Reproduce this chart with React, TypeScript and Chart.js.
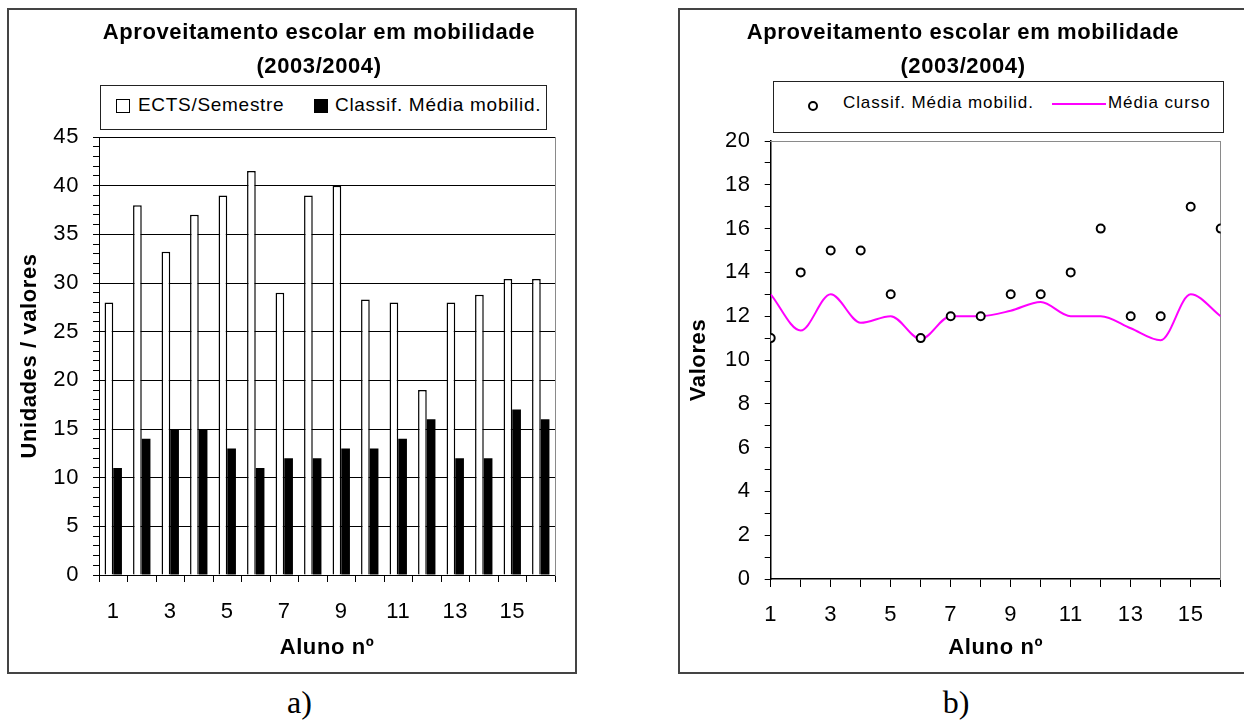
import { useEffect, useRef } from 'react';
import { Chart, registerables } from 'chart.js';

Chart.register(...registerables);

const SANS = '"Liberation Sans", Arial, Helvetica, sans-serif';
const SERIF = '"Liberation Serif", "Times New Roman", serif';

Chart.defaults.font.family = SANS;
Chart.defaults.color = '#000';

// ---- data -------------------------------------------------------------
const TITLE_LINES = ['Aproveitamento escolar em mobilidade', '(2003/2004)'];
const STUDENTS = [1, 2, 3, 4, 5, 6, 7, 8, 9, 10, 11, 12, 13, 14, 15, 16];
const ECTS_SEMESTRE = [28, 38, 33.2, 37, 39, 41.5, 29, 39, 40, 28.3, 28, 19, 28, 28.8, 30.4, 30.4];
const CLASSIF_MEDIA = [11, 14, 15, 15, 13, 11, 12, 12, 13, 13, 14, 16, 12, 12, 17, 16];
const MEDIA_CURSO = [13, 11.35, 13, 11.7, 12, 10.95, 12, 12, 12.25, 12.65, 12, 12, 11.45, 10.9, 13, 12];

const LABEL_ECTS = 'ECTS/Semestre';
const LABEL_CLASSIF = 'Classif. Média mobilid.';
const LABEL_CURSO = 'Média curso';
const X_TITLE = 'Aluno nº';
const Y_TITLE_A = 'Unidades / valores';
const Y_TITLE_B = 'Valores';
const CAPTION_A = 'a)';
const CAPTION_B = 'b)';

const COLOR_ECTS = '#ffffff';
const COLOR_CLASSIF = '#000000';
const COLOR_CURSO = '#ff00ff';
const EDGE_GRAY = '#8a8a8a';

// slightly wider glyph spacing for all canvas text
const textSpacing = {
  id: 'textSpacing',
  beforeDraw(chart: any) {
    chart.ctx.letterSpacing = '0.6px';
  },
};

const TICK_FONT = { size: 22 };
const AXIS_TITLE_FONT = { size: 22, weight: 'bold' as const };

const titleOpts = (top: number, bottom: number) => ({
  display: true,
  text: TITLE_LINES,
  color: '#000',
  font: { size: 22, weight: 'bold' as const, lineHeight: 1.532 },
  padding: { top, bottom },
});

function BarPanel() {
  const ref = useRef<HTMLCanvasElement | null>(null);
  useEffect(() => {
    const canvas = ref.current;
    if (!canvas) return;
    const chart = new Chart(canvas, {
      type: 'bar',
      data: {
        labels: STUDENTS.map(String),
        datasets: [
          {
            label: LABEL_ECTS,
            data: ECTS_SEMESTRE,
            backgroundColor: COLOR_ECTS,
            borderColor: '#000',
            borderWidth: 1.5,
            categoryPercentage: 0.61,
            barPercentage: 1,
          },
          {
            label: LABEL_CLASSIF,
            data: CLASSIF_MEDIA,
            backgroundColor: COLOR_CLASSIF,
            borderColor: COLOR_CLASSIF,
            borderWidth: 0,
            categoryPercentage: 0.61,
            barPercentage: 1,
          },
        ],
      },
      options: {
        responsive: false,
        animation: false,
        layout: { padding: { left: 8, right: 0, top: 0, bottom: 0 } },
        plugins: {
          legend: { display: false },
          tooltip: { enabled: false },
          title: titleOpts(6.15, 53.45),
        },
        scales: {
          x: {
            type: 'category',
            offset: true,
            grid: { offset: true, drawOnChartArea: false, tickLength: 7, tickColor: '#000', tickWidth: 1 },
            border: { color: '#000', width: 1 },
            ticks: {
              autoSkip: false,
              maxRotation: 0,
              color: '#000',
              font: TICK_FONT,
              padding: 16.5,
              callback: (_v: any, i: number) => (i % 2 === 0 ? String(STUDENTS[i]) : ''),
            },
            title: {
              display: true,
              text: X_TITLE,
              color: '#000',
              font: AXIS_TITLE_FONT,
              padding: { top: 0, bottom: 10.5 },
            },
            afterFit: (s: any) => {
              s.height = 97;
            },
          },
          y: {
            type: 'linear',
            min: 0,
            max: 45,
            grid: {
              color: (c: any) => (c.tick && c.tick.value % 5 === 0 ? '#000' : 'rgba(0,0,0,0)'),
              tickColor: '#000',
              tickLength: 6,
              lineWidth: 1,
            },
            border: { color: '#000', width: 1 },
            ticks: {
              stepSize: 1,
              autoSkip: false,
              color: '#000',
              font: TICK_FONT,
              padding: 14,
              callback: (v: any) => (Number(v) % 5 === 0 ? String(v) : ''),
            },
            title: {
              display: true,
              text: Y_TITLE_A,
              color: '#000',
              font: AXIS_TITLE_FONT,
              padding: 0,
            },
            afterFit: (s: any) => {
              s.width = 82;
            },
          },
          edge: {
            type: 'linear',
            axis: 'y',
            position: 'right',
            display: true,
            grid: { display: false, drawTicks: false },
            ticks: { display: false },
            border: { display: true, color: EDGE_GRAY, width: 1 },
            afterFit: (s: any) => {
              s.width = 66;
            },
          },
        },
      } as any,
      plugins: [textSpacing],
    });
    return () => chart.destroy();
  }, []);
  return (
    <canvas
      ref={ref}
      width={612}
      height={662}
      style={{ position: 'absolute', left: 9, top: 10, width: 612, height: 662 }}
    />
  );
}

function ScatterPanel() {
  const ref = useRef<HTMLCanvasElement | null>(null);
  useEffect(() => {
    const canvas = ref.current;
    if (!canvas) return;
    const chart = new Chart(canvas, {
      type: 'line',
      data: {
        datasets: [
          {
            label: LABEL_CLASSIF,
            data: STUDENTS.map((s, i) => ({ x: s, y: CLASSIF_MEDIA[i] })),
            showLine: false,
            pointStyle: 'circle',
            pointRadius: 4,
            pointBorderWidth: 2,
            pointBorderColor: '#000',
            pointBackgroundColor: '#fff',
            borderColor: '#000',
            backgroundColor: '#fff',
          },
          {
            label: LABEL_CURSO,
            data: STUDENTS.map((s, i) => ({ x: s, y: MEDIA_CURSO[i] })),
            borderColor: COLOR_CURSO,
            backgroundColor: COLOR_CURSO,
            borderWidth: 2,
            pointRadius: 0,
            cubicInterpolationMode: 'monotone',
            fill: false,
          },
        ],
      },
      options: {
        responsive: false,
        animation: false,
        layout: { padding: { left: 6, right: 0, top: 0, bottom: 0 } },
        plugins: {
          legend: { display: false },
          tooltip: { enabled: false },
          title: titleOpts(6.15, 57.45),
        },
        scales: {
          x: {
            type: 'linear',
            min: 1,
            max: 16,
            grid: { drawOnChartArea: false, tickLength: 8, tickColor: '#000', tickWidth: 1 },
            border: { color: '#000', width: 1.5 },
            ticks: {
              stepSize: 1,
              autoSkip: false,
              maxRotation: 0,
              color: '#000',
              font: TICK_FONT,
              padding: 14.8,
              callback: (v: any) => (Number(v) % 2 === 1 ? String(v) : ''),
            },
            title: {
              display: true,
              text: X_TITLE,
              color: '#000',
              font: AXIS_TITLE_FONT,
              padding: { top: 0, bottom: 10.5 },
            },
            afterFit: (s: any) => {
              s.height = 93;
            },
          },
          y: {
            type: 'linear',
            min: 0,
            max: 20,
            grid: { drawOnChartArea: false, tickLength: 6, tickColor: '#000', tickWidth: 1 },
            border: { color: '#000', width: 1.5 },
            ticks: {
              stepSize: 1,
              autoSkip: false,
              color: '#000',
              font: TICK_FONT,
              padding: 14,
              callback: (v: any) => (Number(v) % 2 === 0 ? String(v) : ''),
            },
            title: {
              display: true,
              text: Y_TITLE_B,
              color: '#000',
              font: AXIS_TITLE_FONT,
              padding: 0,
            },
            afterFit: (s: any) => {
              s.width = 84.7;
            },
          },
          topEdge: {
            type: 'linear',
            axis: 'x',
            position: 'top',
            display: true,
            grid: { display: false, drawTicks: false },
            ticks: { display: false },
            border: { display: true, color: EDGE_GRAY, width: 1 },
            afterFit: (s: any) => {
              s.height = 0;
            },
          },
          edge: {
            type: 'linear',
            axis: 'y',
            position: 'right',
            display: true,
            grid: { display: false, drawTicks: false },
            ticks: { display: false },
            border: { display: true, color: EDGE_GRAY, width: 1 },
            afterFit: (s: any) => {
              s.width = 19.3;
            },
          },
        },
      } as any,
      plugins: [textSpacing],
    });
    return () => chart.destroy();
  }, []);
  return (
    <canvas
      ref={ref}
      width={560}
      height={662}
      style={{ position: 'absolute', left: 680, top: 10, width: 560, height: 662 }}
    />
  );
}

const abs = (left: number, top: number, extra: any = {}) => ({ position: 'absolute' as const, left, top, ...extra });

function LegendText({ left, top, size, spacing, children }: any) {
  return (
    <span
      style={abs(left, top, {
        fontFamily: SANS,
        fontSize: size,
        lineHeight: `${size}px`,
        letterSpacing: spacing,
        whiteSpace: 'nowrap',
        color: '#000',
      })}
    >
      {children}
    </span>
  );
}

export default function App() {
  return (
    <div
      style={{
        position: 'absolute',
        left: 0,
        top: 0,
        width: 1244,
        height: 720,
        overflow: 'hidden',
        background: '#fff',
      }}
    >
      {/* panel frames */}
      <div style={abs(7, 8, { width: 570, height: 666, border: '2px solid #444', boxSizing: 'border-box' })} />
      <div style={abs(678, 8, { width: 640, height: 666, border: '2px solid #444', boxSizing: 'border-box' })} />

      <BarPanel />
      <ScatterPanel />

      {/* legend of the bar panel */}
      <div style={abs(100, 85, { width: 447, height: 45, border: '1px solid #222', boxSizing: 'border-box', background: '#fff' })} />
      <div style={abs(116, 99, { width: 14, height: 14, border: '1px solid #000', boxSizing: 'border-box', background: COLOR_ECTS })} />
      <LegendText left={138} top={95.3} size={19} spacing="0.7px">{LABEL_ECTS}</LegendText>
      <div style={abs(314, 99, { width: 14, height: 14, background: COLOR_CLASSIF })} />
      <LegendText left={335} top={95.3} size={19} spacing="0.7px">{LABEL_CLASSIF}</LegendText>

      {/* legend of the scatter panel */}
      <div style={abs(773, 81, { width: 451, height: 52, border: '1px solid #222', boxSizing: 'border-box', background: '#fff' })} />
      <div
        style={abs(808, 100.5, {
          width: 10,
          height: 10,
          border: '2px solid #000',
          borderRadius: '50%',
          boxSizing: 'border-box',
          background: '#fff',
        })}
      />
      <LegendText left={843} top={94.1} size={17} spacing="0.9px">{LABEL_CLASSIF}</LegendText>
      <div style={abs(1052, 103.3, { width: 54, height: 2, background: COLOR_CURSO })} />
      <LegendText left={1108} top={94.1} size={17} spacing="0.9px">{LABEL_CURSO}</LegendText>

      {/* captions */}
      <div style={abs(249.5, 686, { width: 100, textAlign: 'center', fontFamily: SERIF, fontSize: 32, lineHeight: '32px', color: '#000' })}>
        {CAPTION_A}
      </div>
      <div style={abs(906, 686, { width: 100, textAlign: 'center', fontFamily: SERIF, fontSize: 32, lineHeight: '32px', color: '#000' })}>
        {CAPTION_B}
      </div>
    </div>
  );
}
